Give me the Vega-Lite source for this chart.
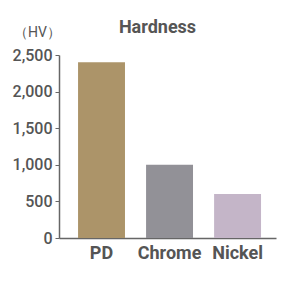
{
  "$schema": "https://vega.github.io/schema/vega-lite/v6.json",
  "width": 217,
  "height": 183,
  "autosize": "none",
  "padding": {"left": 59, "top": 55, "right": 10, "bottom": 43},
  "background": "white",
  "config": {"view": {"stroke": null}, "font": "Roboto"},
  "title": {"text": "Hardness", "fontSize": 18, "fontWeight": "bold", "color": "#555555", "anchor": "middle", "offset": -12, "dx": -10, "font": "Roboto"},
  "data": {"values": [
    {"metal": "PD", "hv": 2400},
    {"metal": "Chrome", "hv": 1000},
    {"metal": "Nickel", "hv": 600}
  ]},
  "mark": {"type": "bar"},
  "encoding": {
    "x": {"field": "metal", "type": "nominal", "sort": null,
      "scale": {"paddingInner": 0.31, "paddingOuter": 0.25, "align": 0.56},
      "axis": {"title": null, "labelAngle": 0, "ticks": false, "labelPadding": 6, "labelFontSize": 18, "labelFontWeight": "bold", "labelColor": "#555555", "domainColor": "#666666", "domainWidth": 1.5, "labelFont": "Roboto"}},
    "y": {"field": "hv", "type": "quantitative",
      "scale": {"domain": [0, 2500]},
      "axis": {"values": [0, 500, 1000, 1500, 2000, 2500], "format": ",d", "grid": false, "title": "（HV）", "titleAngle": 0, "titleX": -22, "titleY": -16, "titleAlign": "center", "titleFontSize": 14, "titleFontWeight": "normal", "titleColor": "#555555", "labelFontSize": 16, "labelFontWeight": 500, "labelColor": "#555555", "labelPadding": 3, "tickSize": 4, "tickColor": "#666666", "domainColor": "#666666", "domainWidth": 1.5, "labelFont": "Roboto"}},
    "color": {"field": "metal", "type": "nominal", "legend": null,
      "scale": {"domain": ["PD", "Chrome", "Nickel"], "range": ["#AC9469", "#929197", "#C4B5C8"]}}
  }
}
